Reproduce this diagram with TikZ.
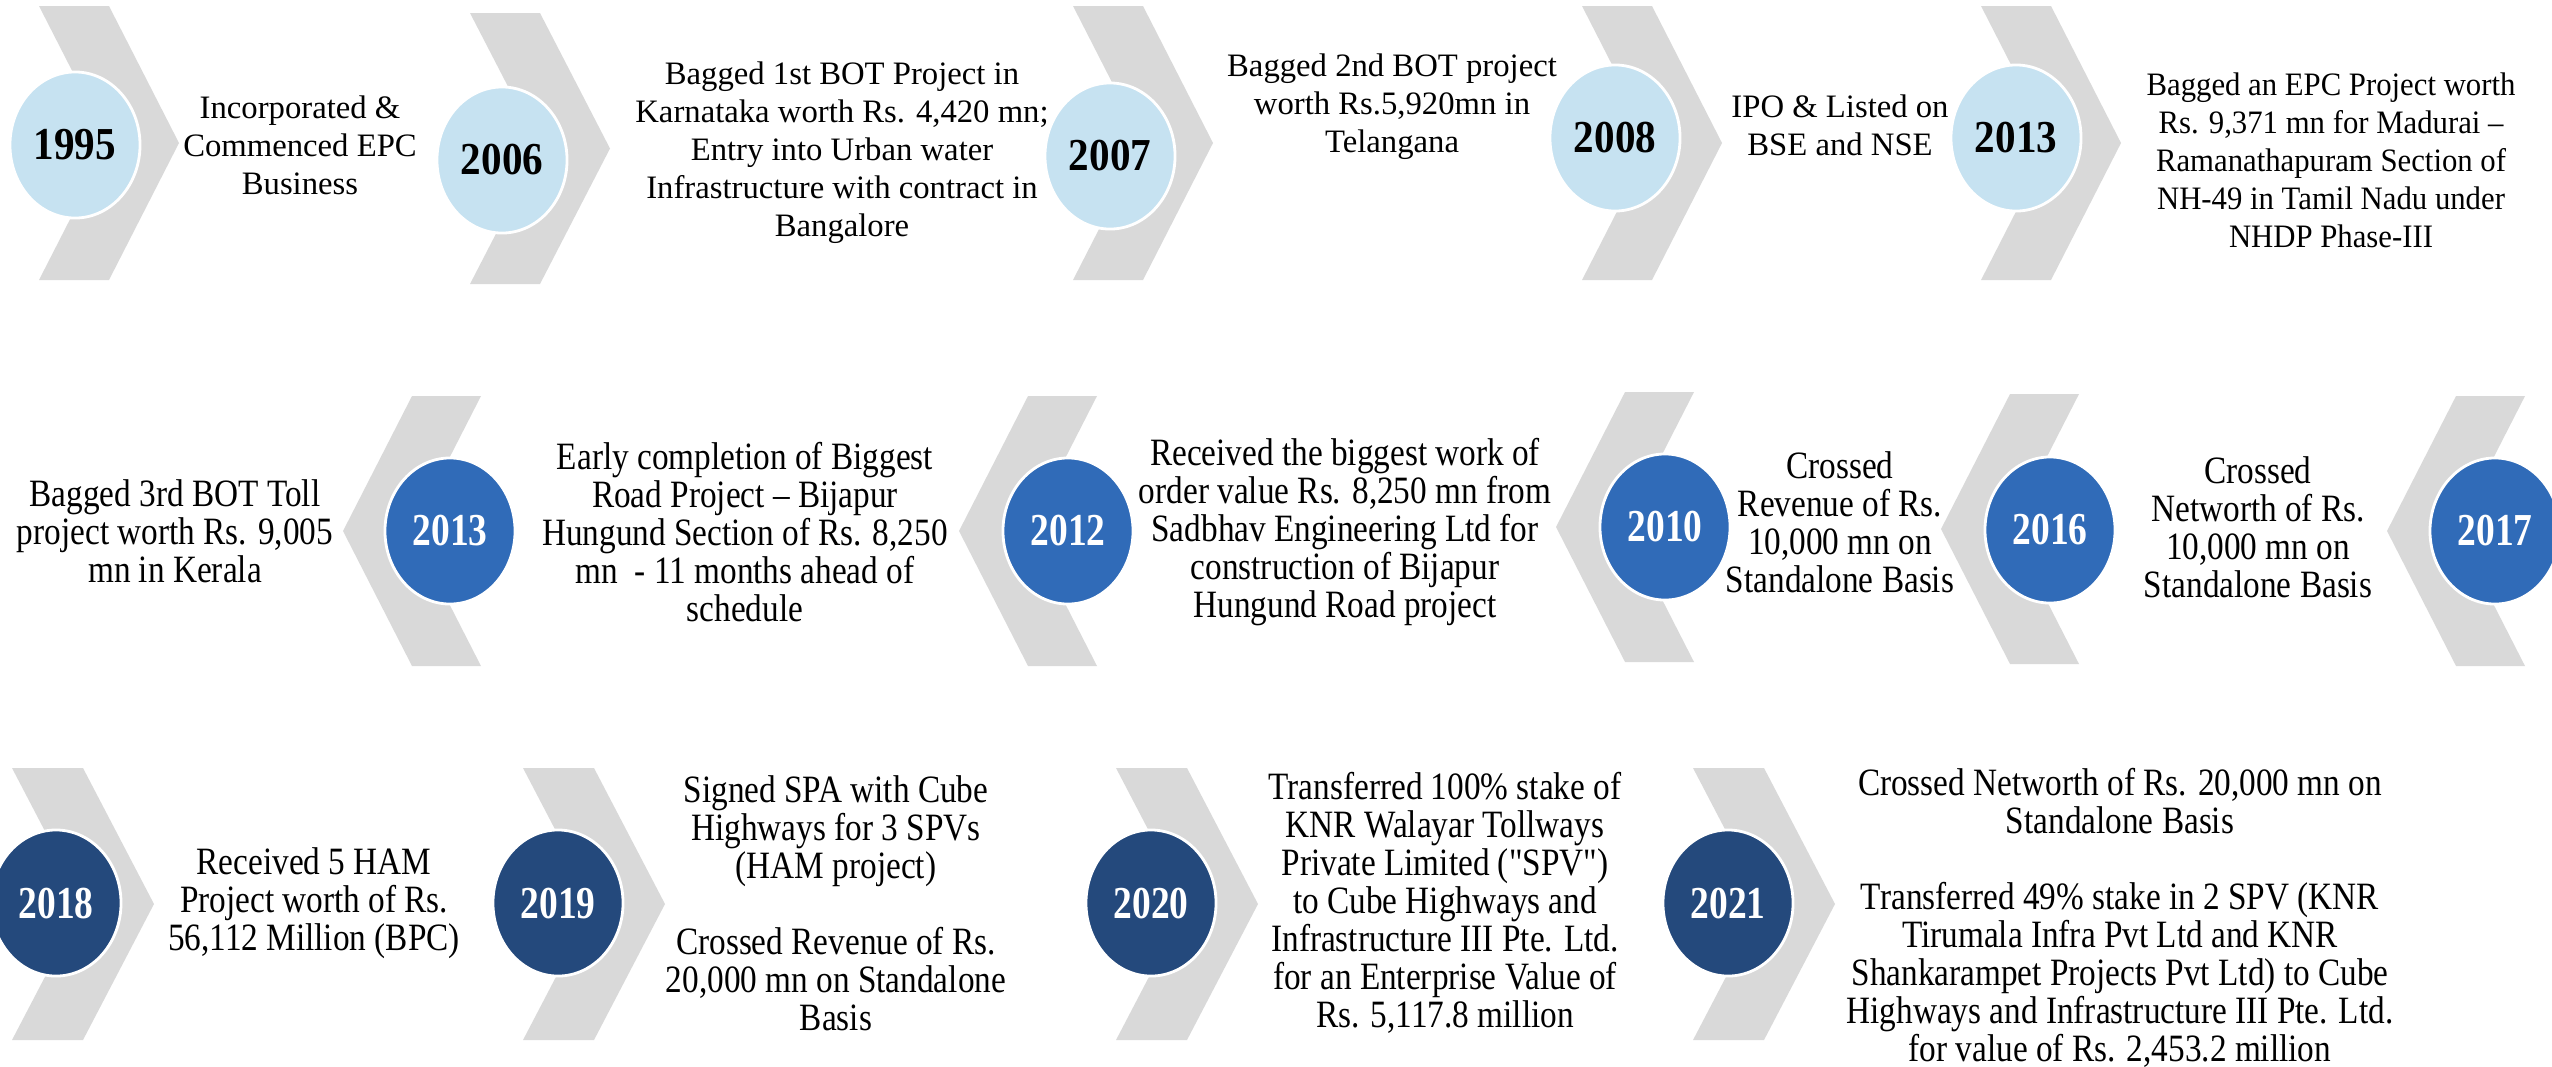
\documentclass[tikz,border=0pt]{standalone}
\usepackage{fontspec}
\setmainfont{Liberation Serif}
\usepackage{graphicx}
\usetikzlibrary{shapes.geometric}
\definecolor{chev}{HTML}{D9D9D9}
\definecolor{lblue}{HTML}{C6E2F1}
\definecolor{mblue}{HTML}{306BB8}
\definecolor{dblue}{HTML}{24497C}
\newcommand{\stk}[2]{\scalebox{#1}[1]{\vbox{\baselineskip=10.8pt\lineskiplimit=-40pt\lineskip=0pt\halign{\hfil##\hfil\cr#2\crcr}}}}
\newcommand{\yr}[2]{\scalebox{#1}[1]{#2}}
\newcommand{\sq}{\XeTeXglyph\XeTeXcharglyph"22\relax}
\newcommand{\rchev}[4]{% left x, top y, bottom y, band/depth
  \fill[chev] (#1,#2) -- ({#1+#4},#2) -- ({#1+2*#4},{(#2+#3)/2}) -- ({#1+#4},#3) -- (#1,#3) -- ({#1+#4},{(#2+#3)/2}) -- cycle;}
\newcommand{\lchev}[4]{% tip x, top y, bottom y, band/depth
  \fill[chev] ({#1+#4},#2) -- ({#1+2*#4},#2) -- ({#1+#4},{(#2+#3)/2}) -- ({#1+2*#4},#3) -- ({#1+#4},#3) -- (#1,{(#2+#3)/2}) -- cycle;}
\tikzset{
  yrbase/.style={ellipse, draw=white, line width=0.8pt, minimum width=1.3cm, minimum height=1.46cm, inner sep=0pt, font=\fontsize{13}{13}\selectfont\bfseries},
  yrA/.style={yrbase, fill=lblue, text=black},
  yrB/.style={yrbase, fill=mblue, text=white},
  yrC/.style={yrbase, fill=dblue, text=white},
  txA/.style={inner sep=0pt, font=\fontsize{9.3}{10.8}\selectfont},
  txB/.style={inner sep=0pt, font=\fontsize{11}{10.8}\selectfont},
}
\begin{document}
\begin{tikzpicture}[x=0.01cm, y=-0.01cm]
\useasboundingbox (0,0) rectangle (2552,1066);
% row 1 chevrons
\rchev{39}{6}{280}{70}
\rchev{470}{13}{284}{70}
\rchev{1073}{6}{280}{70}
\rchev{1582}{6}{280}{70}
\rchev{1981}{6}{280}{70}
% row 2 chevrons
\lchev{343}{396}{666}{69}
\lchev{959}{396}{666}{69}
\lchev{1556}{392}{662}{69}
\lchev{1941}{394}{664}{69}
\lchev{2387}{396}{666}{69}
% row 3 chevrons
\rchev{12}{768}{1040}{71}
\rchev{523}{768}{1040}{71}
\rchev{1116}{768}{1040}{71}
\rchev{1693}{768}{1040}{71}
% row 1 texts
\node[txA] (t1) at (300,145) {\stk{1}{Incorporated \&\cr Commenced EPC\cr Business}};
\node[txA] (t2) at (842,153) {\stk{1}{Bagged 1st BOT Project in\cr Karnataka worth Rs. 4,420 mn;\cr Entry into Urban water\cr Infrastructure with contract in\cr Bangalore}};
\node[txA] (t3) at (1392,107) {\stk{1}{Bagged 2nd BOT project\cr worth Rs.5,920mn in\cr Telangana}};
\node[txA] (t4) at (1840,125) {\stk{1}{IPO \& Listed on\cr BSE and NSE}};
\node[txA] (t5) at (2331,160) {\stk{0.94}{Bagged an EPC Project worth\cr Rs. 9,371 mn for Madurai –\cr Ramanathapuram Section of\cr NH-49 in Tamil Nadu under\cr NHDP Phase-III}};
% row 2 texts
\node[txB] (t6) at (175,531) {\stk{0.86}{Bagged 3rd BOT Toll\cr project worth Rs. 9,005\cr mn in Kerala}};
\node[txB] (t7) at (745,532) {\stk{0.86}{Early completion of Biggest\cr Road Project – Bijapur\cr Hungund Section of Rs. 8,250\cr mn\ \ - 11 months ahead of\cr schedule}};
\node[txB] (t8) at (1345,532) {\stk{0.86}{Received the biggest work of\cr order value Rs. 8,250 mn from\cr Sadbhav Engineering Ltd for\cr construction of Bijapur\cr Hungund Road project}};
\node[txB] (t9) at (1840,522) {\stk{0.86}{Crossed\cr Revenue of Rs.\cr 10,000 mn on\cr Standalone Basis}};
\node[txB] (t10) at (2258,527) {\stk{0.86}{Crossed\cr Networth of Rs.\cr 10,000 mn on\cr Standalone Basis}};
% row 3 texts
\node[txB] (t11) at (314,903) {\stk{0.86}{Received 5 HAM\cr Project worth of Rs.\cr 56,112 Million (BPC)}};
\node[txB] (t12) at (836,903) {\stk{0.86}{Signed SPA with Cube\cr Highways for 3 SPVs\cr (HAM project)\cr \cr Crossed Revenue of Rs.\cr 20,000 mn on Standalone\cr Basis}};
\node[txB] (t13) at (1445,903) {\stk{0.86}{Transferred 100\% stake of\cr KNR Walayar Tollways\cr Private Limited (\sq SPV\sq)\cr to Cube Highways and\cr Infrastructure III Pte. Ltd.\cr for an Enterprise Value of\cr Rs. 5,117.8 million}};
\node[txB] (t14) at (2120,918) {\stk{0.86}{Crossed Networth of Rs. 20,000 mn on\cr Standalone Basis\cr \cr Transferred 49\% stake in 2 SPV (KNR\cr Tirumala Infra Pvt Ltd and KNR\cr Shankarampet Projects Pvt Ltd) to Cube\cr Highways and Infrastructure III Pte. Ltd.\cr for value of Rs. 2,453.2 million}};
% row 1 circles
\node[yrA] (c1) at (75,145) {\yr{0.9}{1995}};
\node[yrA] (c2) at (502,160) {\yr{0.9}{2006}};
\node[yrA] (c3) at (1110,156) {\yr{0.9}{2007}};
\node[yrA] (c4) at (1615,138) {\yr{0.9}{2008}};
\node[yrA] (c5) at (2016,138) {\yr{0.9}{2013}};
% row 2 circles
\node[yrB] (c6) at (450,531) {\yr{0.82}{2013}};
\node[yrB] (c7) at (1068,531) {\yr{0.82}{2012}};
\node[yrB] (c8) at (1665,527) {\yr{0.82}{2010}};
\node[yrB] (c9) at (2050,530) {\yr{0.82}{2016}};
\node[yrB] (c10) at (2495,531) {\yr{0.82}{2017}};
% row 3 circles
\node[yrC] (c11) at (56,903) {\yr{0.82}{2018}};
\node[yrC] (c12) at (558,903) {\yr{0.82}{2019}};
\node[yrC] (c13) at (1151,903) {\yr{0.82}{2020}};
\node[yrC] (c14) at (1728,903) {\yr{0.82}{2021}};
\end{tikzpicture}
\end{document}
